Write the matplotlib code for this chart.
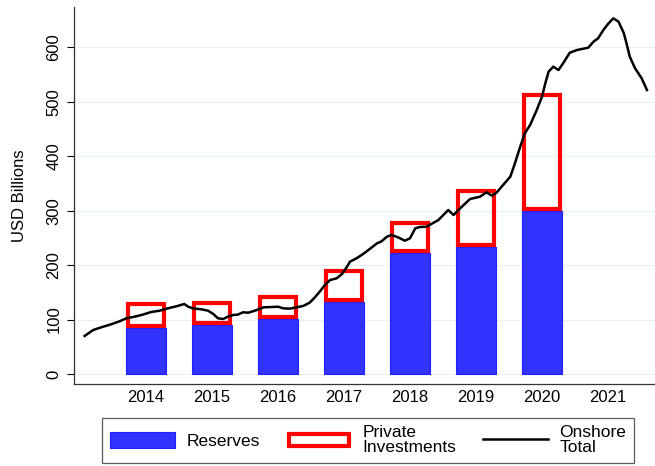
import matplotlib
matplotlib.use('Agg')
import matplotlib.pyplot as plt
from matplotlib.patches import Patch, Rectangle
from matplotlib.lines import Line2D
from matplotlib.legend_handler import HandlerPatch

plt.rcParams['font.family'] = ['Liberation Sans', 'DejaVu Sans']

# ---- data ----
years = [2014, 2015, 2016, 2017, 2018, 2019, 2020]
reserves = [84.5, 90, 100.5, 133, 221.5, 234, 299]
private = [47, 44, 45, 60, 60, 105, 218]

onshore_date = [2013.07, 2013.20, 2013.32, 2013.47, 2013.60, 2013.70, 2013.83, 2013.95,
                2014.08, 2014.21, 2014.33, 2014.46, 2014.58, 2014.64, 2014.71, 2014.84, 2014.94,
                2015.02, 2015.09, 2015.17, 2015.24, 2015.32, 2015.39, 2015.47, 2015.55, 2015.68,
                2015.78, 2015.90, 2016.00, 2016.08, 2016.18, 2016.28, 2016.38, 2016.48, 2016.56,
                2016.64, 2016.71, 2016.79, 2016.89, 2016.97, 2017.03, 2017.09, 2017.19, 2017.29,
                2017.39, 2017.50, 2017.57, 2017.65, 2017.72, 2017.82, 2017.92, 2018.00, 2018.08,
                2018.15, 2018.25, 2018.43, 2018.58, 2018.66, 2018.76, 2018.91, 2019.06, 2019.16,
                2019.24, 2019.31, 2019.41, 2019.52, 2019.59, 2019.67, 2019.74, 2019.82, 2019.92,
                2020.00, 2020.05, 2020.10, 2020.17, 2020.25, 2020.32, 2020.42, 2020.53, 2020.65,
                2020.70, 2020.78, 2020.85, 2020.93, 2021.00, 2021.08, 2021.16, 2021.24, 2021.28,
                2021.33, 2021.41, 2021.51, 2021.59]
onshore_total = [69.8, 80.8, 85.7, 91.2, 96.8, 102.3, 105.3, 109,
                 113.9, 116.3, 120.6, 124.3, 128.6, 123.6, 120.6, 118.8, 116.3,
                 110.2, 102.3, 101, 105.3, 108.4, 109, 113.3, 112.6, 117.5,
                 122.5, 123, 123.6, 120.6, 120, 122.5, 124.9, 131, 140.9,
                 152.4, 163.5, 172.6, 175.8, 183.7, 194, 206.2, 212.5, 220.4,
                 229.6, 240, 243.7, 252.2, 255.3, 251, 244.8, 249.2, 267.6,
                 270, 270.5, 282.8, 301.2, 292, 304.3, 321.4, 325.6, 333.7,
                 327.5, 333, 347, 362.4, 387, 417.5, 442, 457.3, 484.8,
                 509.3, 533.9, 555.2, 564.4, 558.3, 570.6, 590, 595, 598,
                 599.3, 610.3, 616.5, 631.8, 642.8, 653.2, 647, 625.7, 607.3,
                 582.7, 561.4, 543, 521.6]

xtick_years = [2014, 2015, 2016, 2017, 2018, 2019, 2020, 2021]
xtick_labels = ['2014', '2015', '2016', '2017', '2018', '2019', '2020', '2021']
ytick_values = [0, 100, 200, 300, 400, 500, 600]

# ---- styling ----
BLUE = '#3333ff'
BLUE_EDGE = '#1f1fff'
RED = '#ff0000'
GRID = '#eaf1f3'
DPI = 100
W, H = 655, 466

fig = plt.figure(figsize=(W / DPI, H / DPI), dpi=DPI)
ax = fig.add_axes([73.7 / W, 1 - 384.3 / H, (W - 73.7) / W, (384.3 - 7) / H])

xlim = (2012.905, 2021.712)
ylim = (-18.9, 674)
ax.set_xlim(*xlim)
ax.set_ylim(*ylim)

bar_w = 0.6
red_lw_pt = 3.0
red_lw_px = red_lw_pt * DPI / 72
ax_w_px = W - 73.7
ax_h_px = 384.3 - 7
px_x = (xlim[1] - xlim[0]) / ax_w_px
px_y = (ylim[1] - ylim[0]) / ax_h_px

ax.bar(years, reserves, width=bar_w, color=BLUE, edgecolor=BLUE_EDGE, linewidth=0.8, zorder=2)
inset_x = red_lw_px / 2 * px_x
inset_y = red_lw_px / 2 * px_y
ax.bar(years, [p - 2 * inset_y for p in private], width=bar_w - 2 * inset_x,
       bottom=[r + inset_y for r in reserves], fill=False, edgecolor=RED,
       linewidth=red_lw_pt, zorder=3, joinstyle='miter')

ax.plot(onshore_date, onshore_total, color='black', linewidth=1.8, zorder=4)

ax.set_yticks(ytick_values)
ax.set_yticklabels([str(v) for v in ytick_values], rotation=90, va='center', fontsize=12)
ax.set_xticks(xtick_years)
ax.set_xticklabels(xtick_labels, fontsize=12)
ax.tick_params(axis='x', length=0, pad=4)
ax.tick_params(axis='y', direction='out', length=4.7, width=0.8, pad=4)
ax.yaxis.grid(True, color=GRID, linewidth=0.9, zorder=0)
ax.set_axisbelow(True)
for s in ['top', 'right']:
    ax.spines[s].set_visible(False)
for s in ['left', 'bottom']:
    ax.spines[s].set_linewidth(0.9)
    ax.spines[s].set_color('#333333')

ax.set_ylabel('USD Billions', fontsize=12, labelpad=14)


class HandlerRect(HandlerPatch):
    def create_artists(self, legend, orig_handle, xdescent, ydescent, width, height, fontsize, trans):
        lw = orig_handle.get_linewidth()
        if orig_handle.get_fill():
            r = Rectangle((-xdescent, -ydescent), width, height)
        else:
            d = lw / 2
            r = Rectangle((-xdescent + d, -ydescent + d), width - 2 * d, height - 2 * d)
        self.update_prop(r, orig_handle, legend)
        r.set_transform(trans)
        return [r]


h1 = Patch(facecolor=BLUE, edgecolor=BLUE_EDGE, linewidth=0.8)
h2 = Patch(facecolor='none', edgecolor=RED, linewidth=red_lw_pt, fill=False)
h3 = Line2D([], [], color='black', linewidth=1.8)
leg = fig.legend([h1, h2, h3], ['Reserves', 'Private\nInvestments', 'Onshore\nTotal'],
                 loc='upper left', bbox_to_anchor=(102.3 / W, 1 - 417.5 / H), ncol=3,
                 fontsize=12.5, handlelength=3.75, handleheight=1.05, handletextpad=0.63,
                 columnspacing=1.55, borderpad=0.45, borderaxespad=0, fancybox=False,
                 frameon=True, handler_map={Patch: HandlerRect()})
leg.get_frame().set_edgecolor('#333333')
leg.get_frame().set_linewidth(0.9)
for t in leg.get_texts():
    t.set_linespacing(1.0)

fig.savefig('out.png', dpi=DPI)
